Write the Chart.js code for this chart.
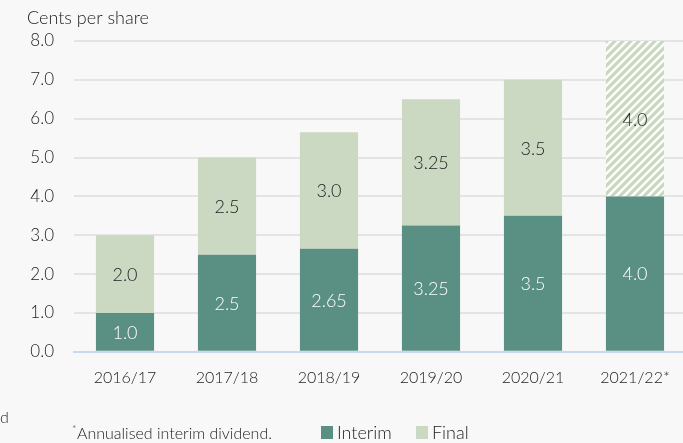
<!DOCTYPE html>
<html><head><meta charset="utf-8">
<script src="https://cdn.jsdelivr.net/npm/chart.js@4"></script>
<style>
html,body{margin:0;padding:0;background:#f8f8f8;overflow:hidden;}
#wrap{width:690px;height:443px;position:relative;}
</style></head>
<body><div id="wrap"><canvas id="c"></canvas></div>
<script>
const categories = ['2016/17','2017/18','2018/19','2019/20','2020/21','2021/22*'];
const interim = [1.0, 2.5, 2.65, 3.25, 3.5, 4.0];
const finalDiv = [2.0, 2.5, 3.0, 3.25, 3.5, 4.0];
const interimLabels = ['1.0','2.5','2.65','3.25','3.5','4.0'];
const finalLabels = ['2.0','2.5','3.0','3.25','3.5','4.0'];
const yTicks = ['0.0','1.0','2.0','3.0','4.0','5.0','6.0','7.0','8.0'];

const FONT = 'Lato, Roboto, sans-serif';
const DARK = '#5a8f84', LIGHT = '#ccd9c2';

function hatch(){
  const s = 8, p = document.createElement('canvas');
  p.width = s; p.height = s;
  const g = p.getContext('2d');
  g.fillStyle = '#ffffff'; g.fillRect(0,0,s,s);
  g.strokeStyle = '#c9d9bf'; g.lineWidth = 3.2;
  g.beginPath();
  g.moveTo(-2, s+2); g.lineTo(s+2, -2);
  g.moveTo(-2, 2); g.lineTo(2, -2);
  g.moveTo(s-2, s+2); g.lineTo(s+2, s-2);
  g.stroke();
  return g.createPattern(p,'repeat');
}
const pat = hatch();
const finalColors = categories.map((c,i)=> i===categories.length-1 ? pat : LIGHT);

const extras = {
  id:'extras',
  afterDatasetsDraw(chart){
    const ctx = chart.ctx;
    ctx.save();
    ctx.textAlign='center'; ctx.textBaseline='middle';
    ctx.font = '300 18px '+FONT;
    [[0,interimLabels,'#ffffff'],[1,finalLabels,'#222222']].forEach(([di,labs,col])=>{
      chart.getDatasetMeta(di).data.forEach((b,i)=>{
        ctx.fillStyle=col;
        ctx.fillText(labs[i], b.x, (b.y+b.base)/2+1);
      });
    });
    ctx.restore();
  },
  afterDraw(chart){
    const ctx = chart.ctx;
    ctx.save();
    ctx.fillStyle='#222';
    ctx.textBaseline='alphabetic'; ctx.textAlign='left';
    ctx.font='300 18px '+FONT;
    ctx.fillText('Cents per share', 27, 24);
    ctx.font='300 16px '+FONT;
    ctx.fillText('d', 0, 423);
    ctx.font='300 10px '+FONT;
    ctx.fillText('*', 72, 432);
    ctx.font='300 16px '+FONT;
    ctx.fillText('Annualised interim dividend.', 77, 439);
    ctx.fillStyle=DARK; ctx.fillRect(321,426,12,13);
    ctx.fillStyle=LIGHT; ctx.fillRect(416,426,12,13);
    ctx.fillStyle='#222';
    ctx.font='300 18px '+FONT;
    ctx.fillText('Interim', 337, 439);
    ctx.fillText('Final', 432, 439);
    ctx.restore();
  }
};

new Chart(document.getElementById('c'), {
  type:'bar',
  data:{
    labels:categories,
    datasets:[
      {label:'Interim', data:interim, backgroundColor:DARK, barPercentage:0.57, categoryPercentage:1},
      {label:'Final', data:finalDiv, backgroundColor:finalColors, barPercentage:0.57, categoryPercentage:1}
    ]
  },
  options:{
    responsive:true, maintainAspectRatio:false, animation:false,
    layout:{padding:{top:41,right:4,bottom:40,left:0}},
    plugins:{legend:{display:false}, tooltip:{enabled:false}},
    scales:{
      x:{stacked:true,
         grid:{display:false, drawTicks:false},
         border:{display:true,color:'#c8d8ee',width:2},
         ticks:{color:'#222',font:{family:FONT,size:16,weight:300},padding:16}},
      y:{stacked:true,min:0,max:8,
         afterFit(s){s.width=74;},
         grid:{color:'#e4e4e4',lineWidth:2,drawTicks:false},
         border:{display:false},
         ticks:{stepSize:1,color:'#222',padding:20,font:{family:FONT,size:17,weight:300},
           callback:(v,i)=>yTicks[i]}}
    }
  },
  plugins:[extras]
});
</script></body></html>
